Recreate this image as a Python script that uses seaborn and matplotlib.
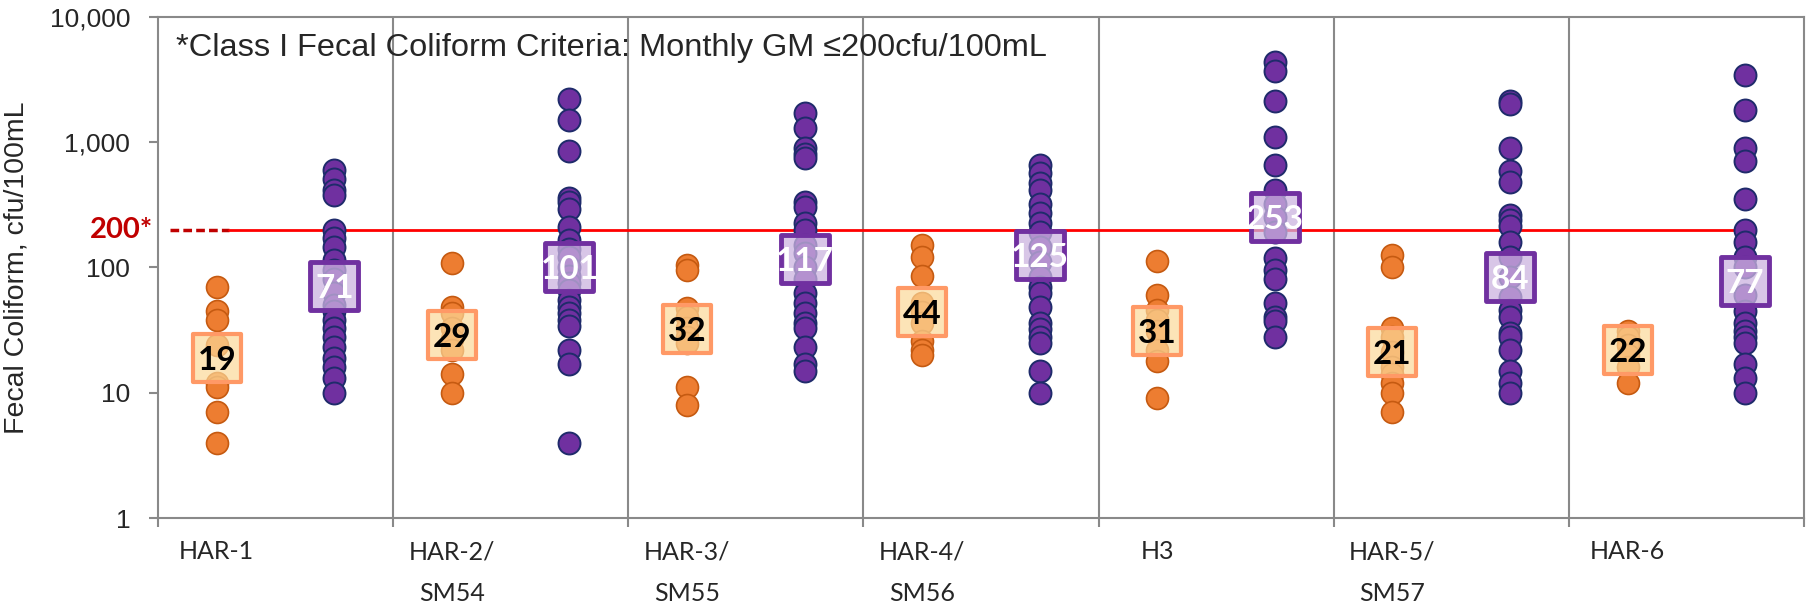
import numpy as np
import pandas as pd
import seaborn as sns
import matplotlib.pyplot as plt
from matplotlib.ticker import FixedLocator, FuncFormatter

# sites along the x axis
sites = ['HAR-1', 'HAR-2/\nSM54', 'HAR-3/\nSM55', 'HAR-4/\nSM56', 'H3', 'HAR-5/\nSM57', 'HAR-6']

# fecal coliform samples (cfu/100mL), first series (orange)
series1 = [
    [69, 45, 38, 24, 12, 11, 7, 4],
    [108, 48, 43, 33, 27, 22, 14, 10],
    [105, 95, 47, 40, 33, 28, 25, 11, 8],
    [150, 120, 85, 52, 44, 36, 26, 22, 20],
    [113, 60, 46, 38, 31, 22, 18, 9],
    [125, 100, 33, 28, 21, 16, 14, 12, 10, 7],
    [31, 28, 24, 20, 16, 12],
]
# second series (purple)
series2 = [
    [600, 510, 410, 380, 200, 170, 145, 115, 95, 80, 62, 50, 45, 38, 33, 28, 23, 19, 16, 13, 10],
    [2200, 1500, 850, 360, 330, 290, 210, 165, 140, 120, 100, 85, 75, 66, 55, 48, 43, 38, 34, 22, 17, 4],
    [1700, 1300, 900, 800, 740, 330, 300, 225, 200, 150, 130, 100, 80, 62, 52, 43, 36, 33, 23, 17, 15],
    [650, 560, 470, 410, 320, 270, 225, 190, 145, 110, 84, 70, 62, 48, 36, 32, 28, 25, 15, 10],
    [4300, 3700, 2100, 1100, 650, 410, 320, 250, 190, 118, 95, 80, 52, 40, 37, 28],
    [2100, 2000, 900, 590, 480, 260, 240, 215, 160, 120, 84, 58, 46, 40, 30, 28, 22, 15, 12, 10],
    [3400, 1800, 900, 700, 350, 200, 160, 120, 100, 60, 45, 36, 31, 28, 25, 17, 13, 10],
]
# geometric means shown in the boxes
gm1 = [19, 29, 32, 44, 31, 21, 22]
gm2 = [71, 101, 117, 125, 253, 84, 77]

criterion = 200
note = '*Class I Fecal Coliform Criteria: Monthly GM \u2264200cfu/100mL'

sns.set_theme(style='white')
plt.rcParams['font.family'] = ['Liberation Sans', 'DejaVu Sans']

rows = []
for i, site in enumerate(sites):
    for v in series1[i]:
        rows.append({'site': site, 'pos': 2 * i, 'series': 's1', 'value': v})
    for v in series2[i]:
        rows.append({'site': site, 'pos': 2 * i + 1, 'series': 's2', 'value': v})
df = pd.DataFrame(rows)

fig = plt.figure(figsize=(18.08, 6.03), dpi=100)
ax = fig.add_axes([158 / 1808, 1 - 518 / 603, 1646 / 1808, 501.5 / 603])
ax.set_yscale('log')

sns.scatterplot(data=df[df.series == 's1'], x='pos', y='value', ax=ax, s=250,
                color='#ED7D31', edgecolor='#C55A11', linewidth=1.2, legend=False, zorder=3)
sns.scatterplot(data=df[df.series == 's2'], x='pos', y='value', ax=ax, s=250,
                color='#7030A0', edgecolor='#1F2B6B', linewidth=1.4, legend=False, zorder=3)

pos1 = np.arange(len(sites)) * 2
pos2 = pos1 + 1
ax.scatter(pos1, gm1, marker='s', s=1150, facecolor=(0.99, 0.85, 0.60, 0.7),
           edgecolor='#FF9966', linewidth=3, zorder=4)
ax.scatter(pos2, gm2, marker='s', s=1150, facecolor=(0.80, 0.70, 0.88, 0.75),
           edgecolor='#7030A0', linewidth=3.5, zorder=4)
for x, g in zip(pos1, gm1):
    ax.text(x, g, str(g), ha='center', va='center_baseline', fontsize=24,
            fontweight='bold', family='Lato', color='black', zorder=5)
for x, g in zip(pos2, gm2):
    ax.text(x, g, str(g), ha='center', va='center_baseline', fontsize=24,
            fontweight='bold', family='Lato', color='white', zorder=5)

# criterion line
ax.plot([pos1[0] - 0.4, pos1[0] + 0.1], [criterion, criterion], color='#C00000',
        lw=2.5, ls=(0, (2.5, 1.2)), zorder=2)
ax.plot([pos1[0] + 0.1, pos2[-1]], [criterion, criterion], color='#FF0000', lw=2, zorder=2)
ax.text(-0.003, criterion, '200*', transform=ax.get_yaxis_transform(), ha='right',
        va='center', fontsize=21, fontweight='bold', family='Lato', color='#C00000')

ax.text(0.011, 0.937, note, transform=ax.transAxes, ha='left', va='center', fontsize=23.4)

ax.set_xlim(-0.5, 2 * len(sites) - 0.5)
ax.set_ylim(1, 10000)
ax.yaxis.set_major_locator(FixedLocator([1, 10, 100, 1000, 10000]))
ax.yaxis.set_minor_locator(FixedLocator([]))
ax.yaxis.set_major_formatter(FuncFormatter(lambda v, p: f'{int(v):,}'))
ax.tick_params(axis='y', which='major', left=True, length=6.5, width=1.5, color='#898989',
               labelsize=19, pad=13.5)

ax.set_xticks(pos1)
ax.set_xticklabels(sites, family='Lato', fontsize=18, linespacing=2.0)
ax.set_xticks(np.arange(len(sites) + 1) * 2 - 0.5, minor=True)
ax.tick_params(axis='x', which='major', length=0, pad=16)
ax.tick_params(axis='x', which='minor', bottom=True, length=6.5, width=1.5, color='#898989')
for b in np.arange(1, len(sites)) * 2 - 0.5:
    ax.axvline(b, color='#898989', lw=1.5, zorder=1)

for sp in ax.spines.values():
    sp.set_color('#898989')
    sp.set_linewidth(1.5)

ax.set_xlabel('')
ax.set_ylabel('Fecal Coliform, cfu/100mL', fontsize=20.5)
ax.yaxis.set_label_coords(-0.078, 0.5)

fig.savefig('out.png', dpi=100)
